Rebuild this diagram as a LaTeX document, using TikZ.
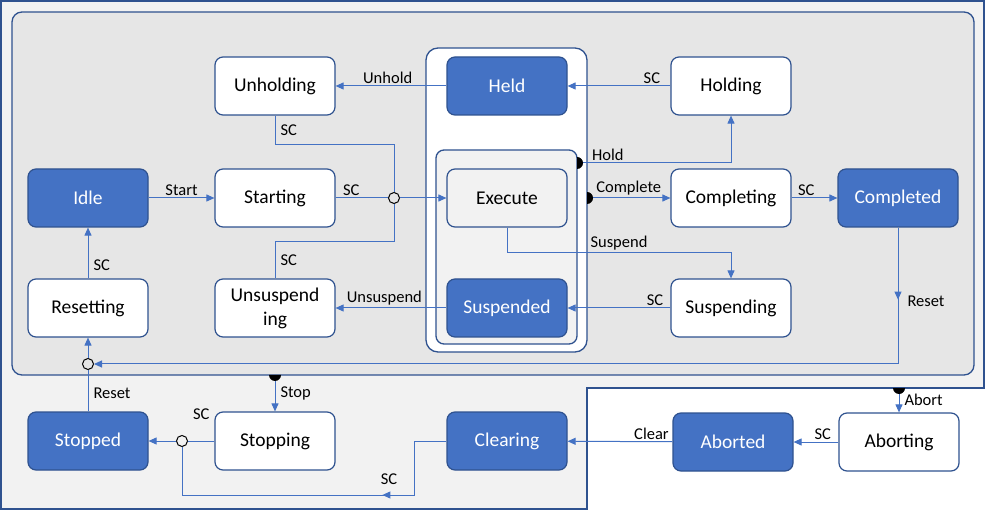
\documentclass[tikz,border=0pt]{standalone}
\usepackage{fontspec}
\setmainfont{Carlito}
\usetikzlibrary{arrows.meta,decorations.markings}

\definecolor{stfill}{HTML}{4472C4}
\definecolor{stline}{HTML}{2F528F}
\definecolor{flow}{HTML}{4472C4}
\definecolor{paleback}{HTML}{F2F2F2}
\definecolor{midback}{HTML}{E6E6E6}

\tikzset{
    state/.style={draw=stline, line width=1.2pt, rounded corners=8pt, fill=white,
        minimum width=120pt, minimum height=58pt, inner sep=2pt, align=center,
        font=\fontsize{19.5}{24}\selectfont},
    final/.style={state, fill=stfill, text=white},
    active/.style={state, fill=paleback},
    line/.style={color=flow, line width=1pt},
    flow/.style={line, -{Triangle[length=8pt,width=7pt]}},
    midarrow/.style={postaction={decorate}, decoration={markings,
        mark=at position #1 with {\arrow{Triangle[length=8pt,width=7pt]}}}},
    lab/.style={text=black, inner sep=2pt, font=\fontsize{16.5}{20}\selectfont},
    junction/.style={circle, draw=black, line width=1pt, minimum size=11pt, inner sep=0pt},
    frame/.style={draw=stline, line width=1.3pt}
}

\begin{document}
\begin{tikzpicture}[x=1pt, y=-1pt]
        \useasboundingbox (0,0) rectangle (985,510);

        % frames
        \fill[white] (0,0) rectangle (985,510);
        \draw[frame, fill=paleback] (1,1) -- (984,1) -- (984,388) -- (587,388)
            -- (587,509) -- (1,509) -- cycle;
        \draw[frame, fill=midback, rounded corners=10pt] (12,12) rectangle (974,375);
        \draw[frame, fill=white, rounded corners=12pt] (426,48) rectangle (587,352);
        \draw[frame, fill=paleback, rounded corners=8pt] (436,150) rectangle (577,344);

        % states
        \node[state] (unholding) at (275,86) {Unholding};
        \node[final] (held) at (507,86) {Held};
        \node[state] (holding) at (731,86) {Holding};

        \node[final] (idle) at (88,198) {Idle};
        \node[state] (starting) at (275,198) {Starting};
        \node[active] (execute) at (507,198) {Execute};
        \node[state] (completing) at (731,198) {Completing};
        \node[final] (completed) at (898,198) {Completed};

        \node[state] (resetting) at (88,308) {Resetting};
        \node[state] (unsuspending) at (275,308) {Unsuspend\\ing};
        \node[final] (suspended) at (507,308) {Suspended};
        \node[state] (suspending) at (731,308) {Suspending};

        \node[final] (stopped) at (88,441) {Stopped};
        \node[state] (stopping) at (275,441) {Stopping};
        \node[final] (clearing) at (507,441) {Clearing};
        \node[final] (aborted) at (733,442) {Aborted};
        \node[state] (aborting) at (899,442) {Aborting};

        % junctions and anchor points
        \node[junction] (jc) at (394,198) {};
        \node[junction] (rcirc) at (88,364) {};
        \node[junction] (scirc) at (182,441) {};
        \coordinate (uh) at (394,145);
        \coordinate (us) at (394,242);
        \coordinate (clr) at (414,495);
        \coordinate (hold) at (577,163);
        \coordinate (cmpl) at (587,198);
        \coordinate (stp) at (275,375);
        \coordinate (abt) at (899,388);

        % transitions
        \draw[flow] (idle) -- node[lab, above]{Start} (starting);
        \draw[line] (starting) -- node[lab, above, pos=0.3]{SC} (jc);
        \draw[line] (unholding.south) |- node[lab, pos=0.25, right=3pt]{SC} (uh) -- (jc);
        \draw[line] (unsuspending.north) |- node[lab, pos=0.25, right=3pt]{SC} (us) -- (jc);
        \draw[flow] (jc) -- (execute);

        \draw[flow] (held) -- node[lab, above, pos=0.53]{Unhold} (unholding);
        \draw[flow] (holding) -- node[lab, above, pos=0.18]{SC} (held);
        \draw[flow] (hold) -| node[lab, above, pos=0.1]{Hold} (holding);
        \draw[flow] (cmpl) -- node[lab, above]{Complete} (completing);
        \draw[flow] (completing) -- node[lab, above, pos=0.32]{SC} (completed);

        \draw[flow] (execute.south) -- ++(0,25) -| node[lab, above, pos=0.25]{Suspend} (suspending.north);
        \draw[flow] (suspending) -- node[lab, above, pos=0.15]{SC} (suspended);
        \draw[flow] (suspended) -- node[lab, above, pos=0.56]{Unsuspend} (unsuspending);

        \draw[flow, midarrow=72pt] (completed.south) |- node[lab, pos=0.27, right=7pt]{Reset} (rcirc);
        \draw[flow] (rcirc) -- (resetting);
        \draw[flow] (resetting) -- node[lab, pos=0.25, right=3pt]{SC} (idle);
        \draw[line] (stopped) -- node[lab, pos=0.45, right=3pt]{Reset} (rcirc);

        \draw[flow] (stp) -- node[lab, right=3pt]{Stop} (stopping);
        \draw[line] (stopping) -- node[lab, above=19pt]{SC} (scirc);
        \draw[flow] (scirc) -- (stopped);
        \draw[line, midarrow=118pt] (clearing) -| (clr) -| node[lab, above=8pt, pos=0.054]{SC} (scirc);

        \draw[flow] (abt) -- node[lab, right=3pt]{Abort} (aborting);
        \draw[flow] (aborting) -- node[lab, above, pos=0.35]{SC} (aborted);
        \draw[flow] (aborted) -- node[lab, above, pos=0.2]{Clear} (clearing);

        % trigger dots
        \fill (577,157) arc[start angle=-90, end angle=90, radius=6] -- cycle;
        \fill (587,192) arc[start angle=-90, end angle=90, radius=6] -- cycle;
        \fill (281,375) arc[start angle=0, end angle=180, radius=6] -- cycle;
        \fill (905,388) arc[start angle=0, end angle=180, radius=6] -- cycle;
\end{tikzpicture}
\end{document}
